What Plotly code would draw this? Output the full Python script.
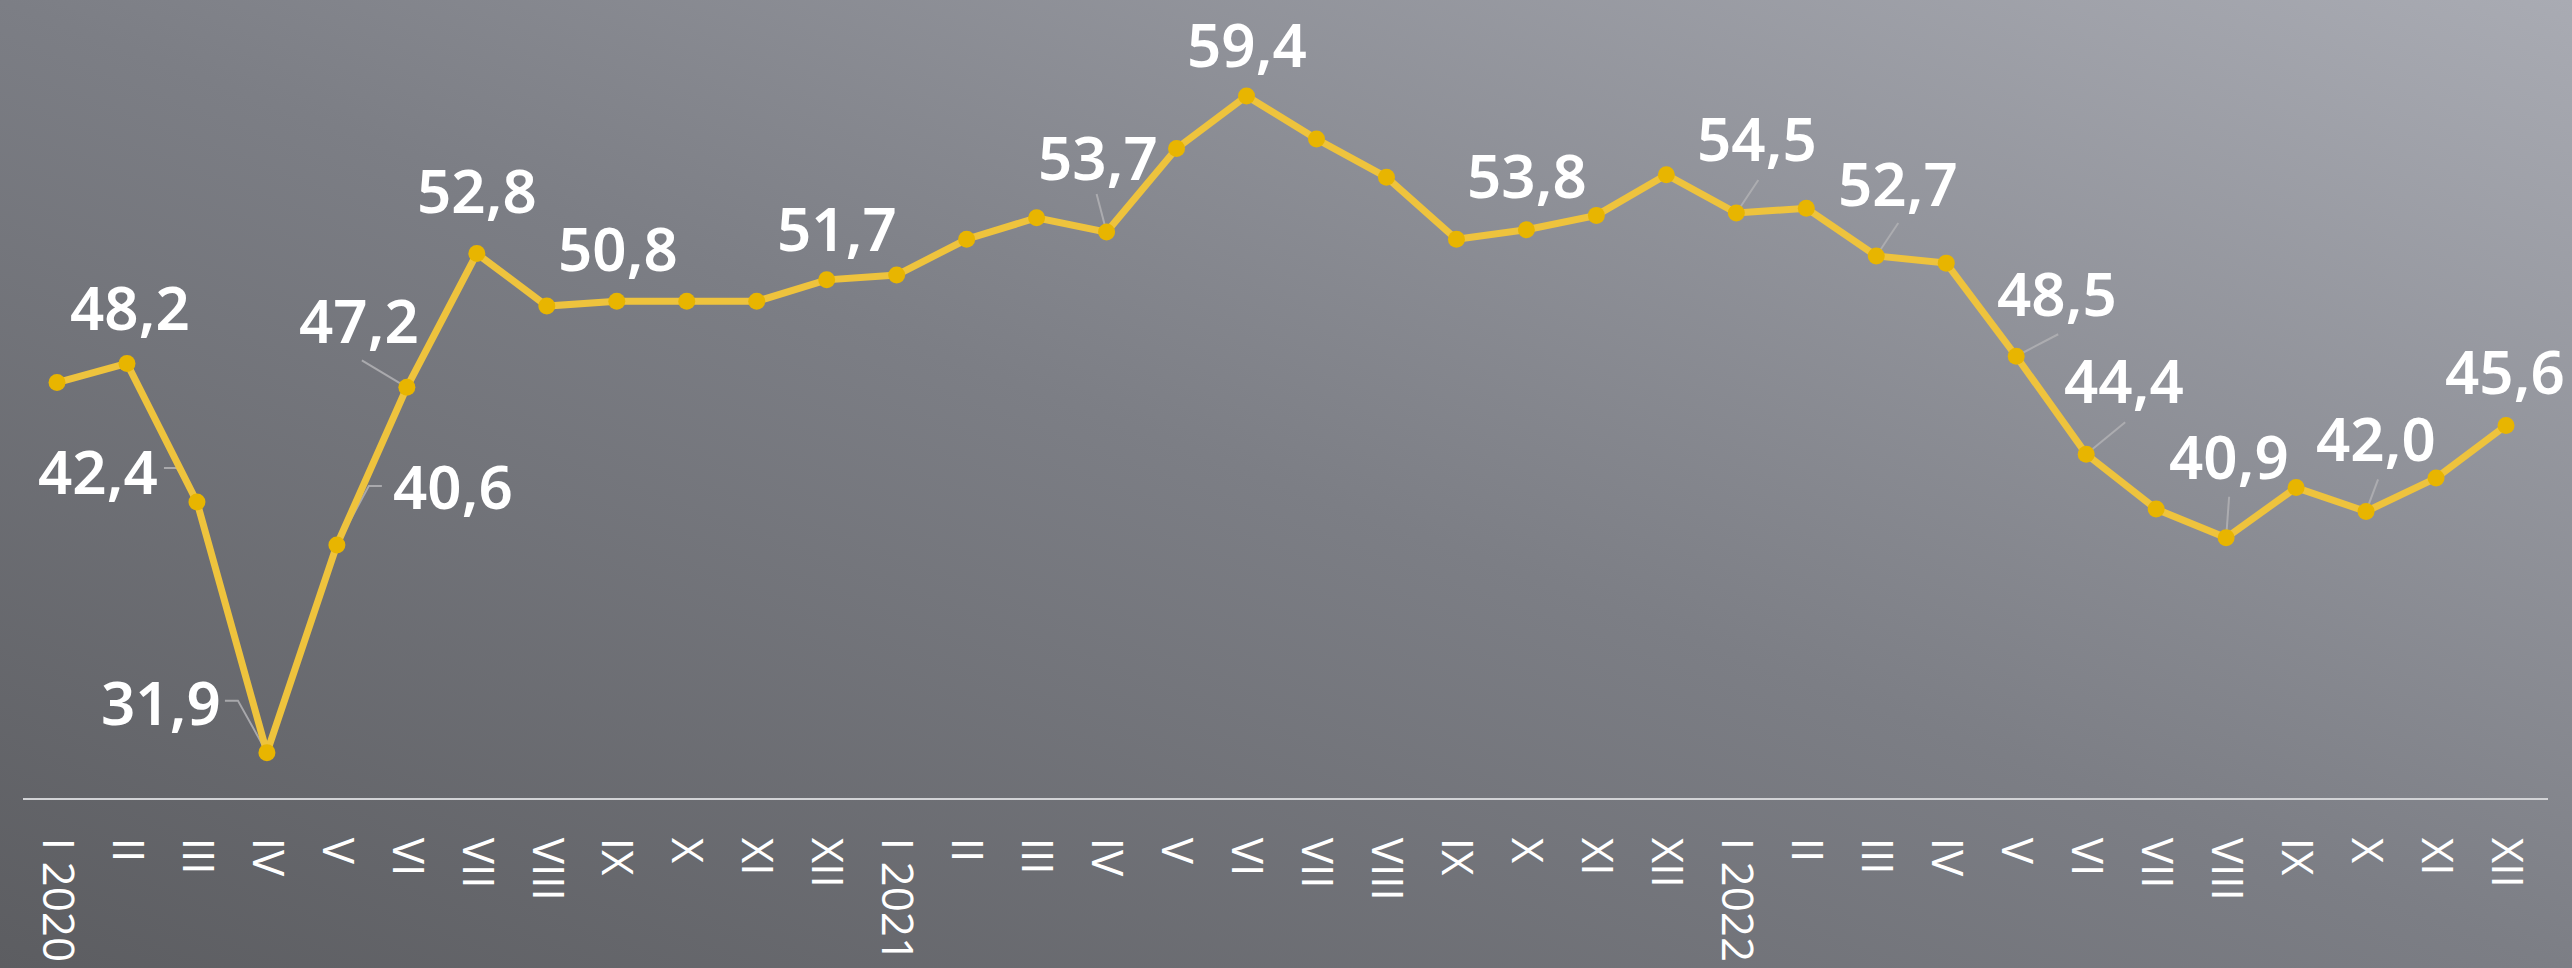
import base64
import plotly.graph_objects as go

# ---- data ----
months = ["I", "II", "III", "IV", "V", "VI", "VII", "VIII", "IX", "X", "XI", "XII"]
years = ["2020", "2021", "2022"]
values_2020 = [47.4, 48.2, 42.4, 31.9, 40.6, 47.2, 52.8, 50.6, 50.8, 50.8, 50.8, 51.7]
values_2021 = [51.9, 53.4, 54.3, 53.7, 57.2, 59.4, 57.6, 56.0, 53.4, 53.8, 54.4, 56.1]
values_2022 = [54.5, 54.7, 52.7, 52.4, 48.5, 44.4, 42.1, 40.9, 43.0, 42.0, 43.4, 45.6]
labeled_idx = [1, 2, 3, 4, 5, 6, 8, 11, 15, 17, 21, 24, 26, 28, 29, 31, 33, 35]

values = values_2020 + values_2021 + values_2022
tick_text = []
for y in years:
    for m in months:
        tick_text.append(f"{m} {y}" if m == "I" else m)
xs = list(range(len(values)))

# ---- styling: label offsets (px, screen down positive) & leader paths ----
label_off = {
    1: (3, -56), 2: (-99, -31), 3: (-106, -51), 4: (116, -59), 5: (-48, -67),
    6: (0, -64), 8: (1, -53), 11: (10, -52), 15: (-9, -75), 17: (0, -52),
    21: (1, -55), 24: (21, -75), 26: (22, -73), 28: (41, -63), 29: (38, -74),
    31: (3, -82), 33: (10, -73), 35: (-1, -55),
}
leaders = {
    2: [(-33, -34), (-20, -34), (0, 0)],
    3: [(-42, -52), (-29, -52), (0, 0)],
    4: [(45, -59), (32, -59), (0, 0)],
    5: [(-45, -27), (0, 0)],
    15: [(-10, -38), (0, 0)],
    24: [(22, -33), (0, 0)],
    26: [(22, -33), (0, 0)],
    28: [(42, -22), (0, 0)],
    29: [(39, -32), (0, 0)],
    31: [(3, -41), (0, 0)],
    33: [(12, -32), (0, 0)],
}

W, H = 2572, 968
ML, MR, MT, MB = 23, 24, 0, 170
FONT = "Noto Sans"
TICKFONT = "Open Sans"

svg = f'''<svg xmlns="http://www.w3.org/2000/svg" width="{W}" height="{H}" viewBox="0 0 {W} {H}" preserveAspectRatio="none">
<defs><linearGradient id="g" x1="0" y1="1" x2="1" y2="0">
<stop offset="0" stop-color="#5c5d61"/>
<stop offset="0.5" stop-color="#7c7e85"/>
<stop offset="1" stop-color="#a9abb3"/>
</linearGradient></defs>
<rect width="{W}" height="{H}" fill="url(#g)"/></svg>'''
src = "data:image/svg+xml;base64," + base64.b64encode(svg.encode()).decode()

pw = W - ML - MR
ph = H - MT - MB

fig = go.Figure()
fig.add_trace(go.Scatter(
    x=xs, y=values, mode="lines+markers",
    line=dict(color="#eec33d", width=7),
    marker=dict(color="#e8b500", size=17),
    cliponaxis=False, hoverinfo="skip",
))

annotations = []
shapes = []
for i in labeled_idx:
    dx, dy = label_off[i]
    annotations.append(dict(
        x=i, y=values[i], xref="x", yref="y",
        text=f"{values[i]:.1f}".replace(".", ","),
        showarrow=False, xshift=dx, yshift=-dy,
        xanchor="center", yanchor="middle",
        font=dict(family=FONT, size=60, color="white", weight=600),
    ))
for i, pts in leaders.items():
    path = "M " + " L ".join(f"{px},{-py}" for px, py in pts)
    shapes.append(dict(
        type="path", xref="x", yref="y", xsizemode="pixel", ysizemode="pixel",
        xanchor=i, yanchor=values[i], path=path,
        line=dict(color="rgba(175,175,178,0.9)", width=2), layer="below",
    ))

fig.update_layout(
    width=W, height=H,
    margin=dict(l=ML, r=MR, t=MT, b=MB, autoexpand=False),
    font=dict(family=FONT, color="white"),
    paper_bgcolor="#7c7e85", plot_bgcolor="rgba(0,0,0,0)",
    showlegend=False,
    images=[dict(
        source=src, xref="paper", yref="paper",
        x=-ML / pw, y=1 + MT / ph, sizex=W / pw, sizey=H / ph,
        xanchor="left", yanchor="top", sizing="stretch", layer="below",
    )],
    annotations=annotations,
    shapes=shapes,
    xaxis=dict(
        range=[-0.486, 35.6], tickmode="array", tickvals=xs, ticktext=tick_text,
        tickangle=90, showgrid=False, zeroline=False, automargin=False,
        showline=True, linecolor="#d2d3d6", linewidth=2,
        ticks="", ticklabelstandoff=29,
        tickfont=dict(family=TICKFONT, size=44, color="white"),
    ),
    yaxis=dict(range=[30, 63.42], visible=False, showgrid=False, zeroline=False),
)

fig.write_html(
    "out.html",
    config={"displayModeBar": False, "staticPlot": True},
    post_script=(
        "document.body.style.margin='0';"
        "document.body.style.overflow='hidden';"
        "document.documentElement.style.overflow='hidden';"
    ),
)
